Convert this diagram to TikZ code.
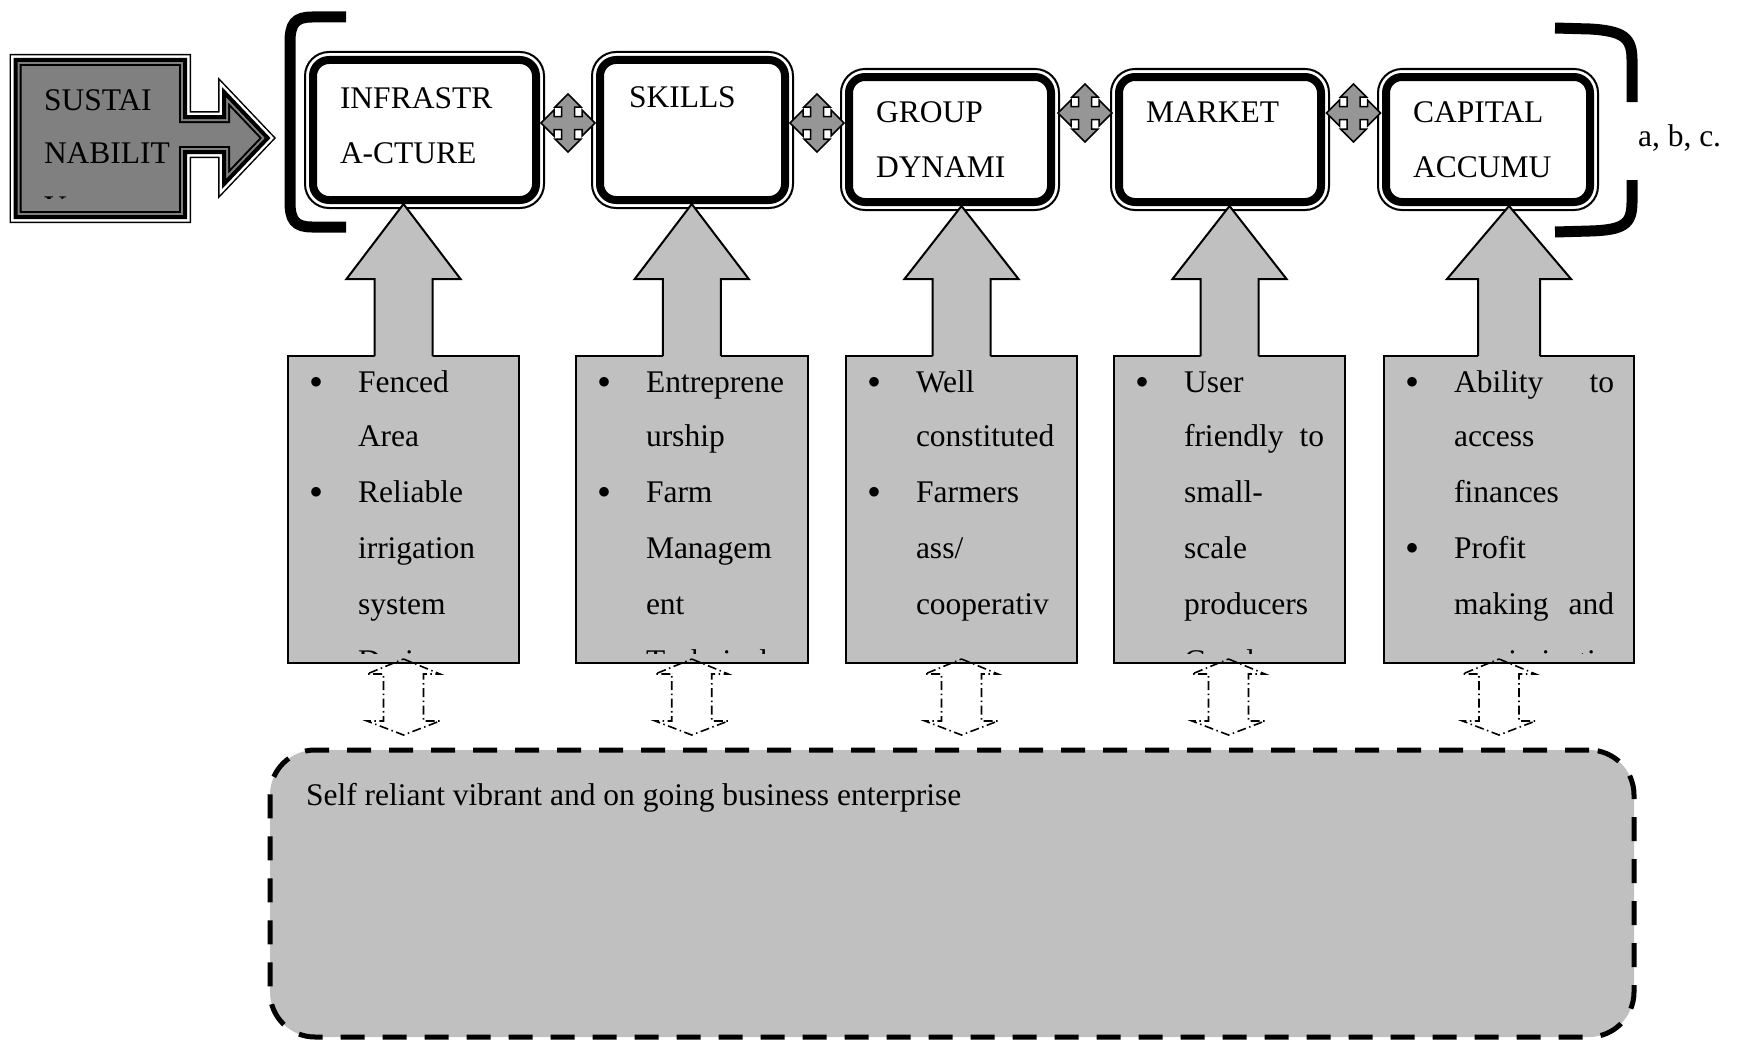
\documentclass[tikz,border=0pt]{standalone}
\usepackage{fontspec}
\setmainfont{Liberation Serif}
\usetikzlibrary{calc}
\definecolor{lgray}{RGB}{192,192,192}
\definecolor{dgray}{RGB}{128,128,128}
\definecolor{mgray}{RGB}{150,150,150}
\newcommand\sustpath[1]{\path[#1] (15.6,60) -- (185,60) -- (185,117) -- (224,117) -- (224,92) -- (267.7,138) -- (224,184) -- (224,152) -- (185,152) -- (185,217) -- (15.6,217) -- cycle;}
\newcommand\listline[4]{\node[txt] (#1) at ($(#2.north west)+(70,#3)$) {#4};}
\newcommand\bulmark[3]{\node[bul] (#1) at ($(#2.north west)+(28,#3+3)$) {•};}
\newcommand\bigup[4]{%
  \coordinate (#1t0) at (#1.north |- #2.south);
  \coordinate (#1tip) at ([yshift=-4pt]#1t0);
  \fill[lgray] ($(#1.north)+(-#3,2)$) -- ($(#1.north)+(-#3,-77)$) -- ($(#1.north)+(-#4,-77)$) -- (#1tip) -- ($(#1.north)+(#4,-77)$) -- ($(#1.north)+(#3,-77)$) -- ($(#1.north)+(#3,2)$) -- cycle;
  \draw[arrowline] ($(#1.north)+(-#3,0)$) -- ($(#1.north)+(-#3,-77)$) -- ($(#1.north)+(-#4,-77)$) -- (#1tip) -- ($(#1.north)+(#4,-77)$) -- ($(#1.north)+(#3,-77)$) -- ($(#1.north)+(#3,0)$);
}
\tikzset{
  txt/.style={anchor=base west, inner sep=0pt, outer sep=0pt},
  bul/.style={anchor=base, inner sep=0pt, outer sep=0pt, font=\fontsize{40pt}{40pt}\selectfont},
  topbox/.style={draw, line width=8pt, rounded corners=16pt, fill=white, inner sep=0pt, outer sep=0pt},
  ring/.style={draw, line width=2pt, rounded corners=24pt},
  listbox/.style={draw, line width=2pt, fill=lgray, inner sep=0pt, outer sep=0pt, minimum height=307pt},
  arrowline/.style={draw, line width=2pt, line join=miter},
  selfbox/.style={draw, line width=5pt, dash pattern=on 24pt off 18pt, rounded corners=45pt, fill=lgray, inner sep=0pt, outer sep=0pt},
  bigbracket/.style={draw, line width=11pt},
  fourway/.pic={\draw[fill=mgray, line width=1.5pt, line join=miter] (0,-29) -- (13,-16) -- (6.5,-16) -- (6.5,-6.5) -- (14,-6.5) -- (14,-13) -- (27,0) -- (14,13) -- (14,6.5) -- (6.5,6.5) -- (6.5,16) -- (13,16) -- (0,29) -- (-13,16) -- (-6.5,16) -- (-6.5,6.5) -- (-14,6.5) -- (-14,13) -- (-27,0) -- (-14,-13) -- (-14,-6.5) -- (-6.5,-6.5) -- (-6.5,-16) -- (-13,-16) -- cycle;},
  updown/.pic={\draw[line width=1.6pt, dash pattern=on 9pt off 3.5pt on 1.5pt off 3.5pt] (0,-38) -- (36.5,-23) -- (20,-23) -- (20,24) -- (36.5,24) -- (0,38) -- (-36.5,24) -- (-20,24) -- (-20,-23) -- (-36.5,-23) -- cycle;},
}
\begin{document}
\begin{tikzpicture}[x=1pt, y=-1pt, font=\fontsize{31.5pt}{55pt}\selectfont]
\useasboundingbox (0,0) rectangle (1739,1041);

% top boxes
\node[topbox, minimum width=223pt, minimum height=140pt] (infra) at (424.5,130) {};
\node[topbox, minimum width=185pt, minimum height=140pt] (skills) at (692.5,130) {};
\node[topbox, minimum width=202pt, minimum height=125pt] (group) at (950,139.5) {};
\node[topbox, minimum width=202pt, minimum height=125pt] (market) at (1220,139.5) {};
\node[topbox, minimum width=204pt, minimum height=125pt] (capital) at (1488,139.5) {};
\foreach \n in {infra,skills,group,market,capital}
  \draw[ring] ([shift={(-8,-8)}]\n.north west) rectangle ([shift={(8,8)}]\n.south east);

% list boxes
\node[listbox, minimum width=231pt] (l1) at (403.5,509.5) {};
\node[listbox, minimum width=231.5pt] (l2) at (691.75,509.5) {};
\node[listbox, minimum width=231pt] (l3) at (961.5,509.5) {};
\node[listbox, minimum width=231pt] (l4) at (1229.5,509.5) {};
\node[listbox, minimum width=250pt] (l5) at (1509,509.5) {};

% big up arrows
\bigup{l1}{infra}{29}{57}
\bigup{l2}{skills}{29}{57}
\bigup{l3}{group}{29}{57}
\bigup{l4}{market}{29}{57}
\bigup{l5}{capital}{31}{62}

% four-way arrows
\path ($(infra.east)!0.5!(skills.west)$) ++(0,-7) pic {fourway};
\path ($(skills.east)!0.5!(group.west)$) ++(0,-11.75) pic {fourway};
\path ($(group.east)!0.5!(market.west)$) ++(0,-26.5) pic {fourway};
\path ($(market.east)!0.5!(capital.west)$) ++(0,-26.5) pic {fourway};

% bottom box
\node[selfbox, minimum width=1364pt, minimum height=287pt] (self) at (952,893.5) {};

% dash-dot up-down arrows
\path ($(l1.south)+(0,34)$) pic {updown};
\path ($(l2.south)+(0,34)$) pic {updown};
\path ($(l3.south)+(0,34)$) pic {updown};
\path ($(l4.south)+(-1,34)$) pic {updown};
\path ($(l5.south)+(-10,34)$) pic {updown};

% brackets
\draw[bigbracket] (346,17) -- (312,17) .. controls (295,17) and (290,24) .. (290,42) -- (290,202) .. controls (290,220) and (295,227) .. (312,227) -- (346,227);
\draw[bigbracket] (1555,28) -- (1590,29) .. controls (1624,31) and (1632,38) .. (1632,60) -- (1632,102);
\draw[bigbracket] (1632,180) -- (1632,202) .. controls (1632,224) and (1624,230) .. (1590,231) -- (1555,232);

% callout arrow
\sustpath{fill=dgray}
\sustpath{draw=black, line width=12pt, line join=miter}
\sustpath{draw=white, line width=9pt, line join=miter}
\begin{scope}
\sustpath{clip}
\sustpath{draw=black, line width=11pt, line join=miter}
\sustpath{draw=dgray, line width=8pt, line join=miter}
\end{scope}
\sustpath{draw=black, line width=4pt, line join=miter}

% texts
\node[txt] (sust1) at (44,110) {SUSTAI};
\node[txt] (sust2) at (44,163) {NABILIT};
\begin{scope}
\clip (30,190) rectangle (180,198);
\node[txt] (sust3) at (44,217.5) {Y};
\end{scope}

\node[txt] (infra1) at (340,108) {INFRASTR};
\node[txt] (infra2) at (340,163) {A-CTURE};
\node[txt] (skills1) at (629,107.5) {SKILLS};
\node[txt] (group1) at (876,122) {GROUP};
\node[txt] (group2) at (876,177) {DYNAMI};
\node[txt] (market1) at (1146,122) {MARKET};
\node[txt] (cap1) at (1413,122) {CAPITAL};
\node[txt] (cap2) at (1413,177) {ACCUMU};
\node[txt] (abc) at (1638,146) {a, b, c.};

% list 1
\bulmark{b1a}{l1}{36}
\listline{t1a}{l1}{36}{Fenced}
\listline{t1b}{l1}{90.5}{Area}
\bulmark{b1b}{l1}{146}
\listline{t1c}{l1}{146}{Reliable}
\listline{t1d}{l1}{202}{irrigation}
\listline{t1e}{l1}{258}{system}
% list 2
\bulmark{b2a}{l2}{36}
\listline{t2a}{l2}{36}{Entreprene}
\listline{t2b}{l2}{90.5}{urship}
\bulmark{b2b}{l2}{146}
\listline{t2c}{l2}{146}{Farm}
\listline{t2d}{l2}{202}{Managem}
\listline{t2e}{l2}{258}{ent}
% list 3
\bulmark{b3a}{l3}{36}
\listline{t3a}{l3}{36}{Well}
\listline{t3b}{l3}{90.5}{constituted}
\bulmark{b3b}{l3}{146}
\listline{t3c}{l3}{146}{Farmers}
\listline{t3d}{l3}{202}{ass/}
\listline{t3e}{l3}{258}{cooperativ}
% list 4
\bulmark{b4a}{l4}{36}
\listline{t4a}{l4}{36}{User}
\listline{t4b}{l4}{90.5}{\hbox to 140pt{friendly\hfil to}}
\listline{t4c}{l4}{146}{small-}
\listline{t4d}{l4}{202}{scale}
\listline{t4e}{l4}{258}{producers}
% list 5
\bulmark{b5a}{l5}{36}
\listline{t5a}{l5}{36}{\hbox to 160pt{Ability\hfil to}}
\listline{t5b}{l5}{90.5}{access}
\listline{t5c}{l5}{146}{finances}
\bulmark{b5b}{l5}{202}
\listline{t5d}{l5}{202}{Profit}
\listline{t5e}{l5}{258}{\hbox to 160pt{making\hfil and}}

% clipped sixth lines
\begin{scope}
\clip (280,640) rectangle (1640,653);
\listline{t1f}{l1}{315}{Drainage}
\listline{t2f}{l2}{315}{Technical}
\listline{t4f}{l4}{315}{Good}
\listline{t5f}{l5}{315}{maximization}
\end{scope}

\node[txt] (selftext) at (306,805) {Self reliant vibrant and on going business enterprise};
\end{tikzpicture}
\end{document}
